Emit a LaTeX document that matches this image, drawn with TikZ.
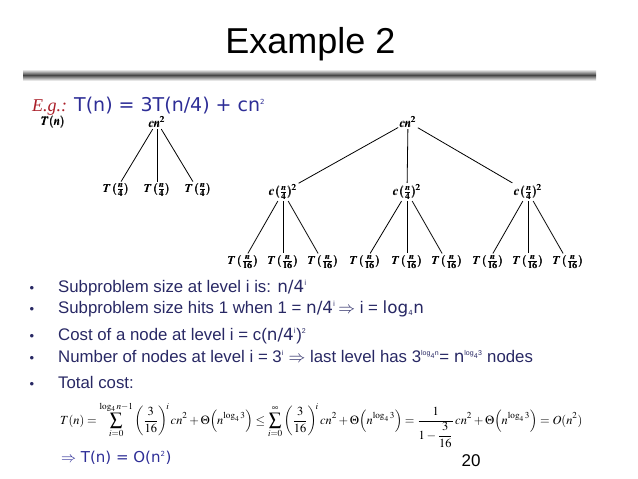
\documentclass[tikz,border=0pt]{standalone}
\usepackage{amsmath}
\usepackage{mathptmx}
\usepackage{fontspec}
\setmainfont{Liberation Sans}
\newfontfamily\cmc{DejaVu Sans}
\newfontfamily\egfont{Liberation Serif}
\usetikzlibrary{positioning}
\definecolor{slideblue}{RGB}{45,45,150}
\definecolor{bodytxt}{RGB}{40,40,100}
\definecolor{egred}{RGB}{170,30,40}
\tikzset{
  tr/.style   ={inner sep=1.5pt,font=\fontsize{12}{13}\selectfont},
  br/.style   ={line width=0.8pt},
  bul/.style  ={anchor=base west,inner sep=0pt,font=\fontsize{16.8}{18}\selectfont,text=bodytxt},
  dot/.style  ={anchor=base,inner sep=0pt,font=\fontsize{13}{14}\selectfont,text=bodytxt},
}
\newcommand{\cq}[1]{{\cmc #1}}
\newcommand{\up}[1]{\textsuperscript{\fontsize{7}{7}\selectfont #1}}
\newcommand{\dn}[1]{\textsubscript{\fontsize{7}{7}\selectfont #1}}
\newcommand{\lgf}{\log_4 3}
\newcommand{\tq}[1]{$\pmb{T\,(\frac{n}{#1})}$}

\begin{document}
\begin{tikzpicture}[x=1pt,y=-1pt]
  \useasboundingbox (0,0) rectangle (638,479);
  \node[anchor=base,inner sep=0pt,font=\fontsize{36}{40}\selectfont] (title) at (310.5,53) {Example 2};
  \shade[top color=gray!20,bottom color=gray!20,middle color=gray!55!black] (23,70) rectangle (596,80);
  \node[anchor=base west,inner sep=0pt,font=\egfont\itshape\fontsize{18}{19}\selectfont,text=egred] (eg) at (32,111) {E.g.:};
  \node[anchor=base west,inner sep=0pt,font=\cmc\fontsize{19}{20}\selectfont,text=slideblue] (rec) at (74,111)
       {T(n) = 3T(n/4) + cn\up{2}};

  % small tree
  \node[tr] (tn) at (53,122) {$\pmb{T(n)}$};
  \node[tr] (r) at (157,122) {$\pmb{cn^2}$};
  \node[tr] (a1) at (116,190) {\tq{4}};
  \node[tr] (a2) at (157,190) {\tq{4}};
  \node[tr] (a3) at (198,190) {\tq{4}};
  \foreach \k in {1,2,3} \draw[br] (r) -- (a\k);

  % big tree
  \node[tr] (R) at (408,122) {$\pmb{cn^2}$};
  \node[tr] (c1) at (283,192) {$\pmb{c\,(\frac{n}{4})^2}$};
  \node[tr] (c2) at (407,192) {$\pmb{c\,(\frac{n}{4})^2}$};
  \node[tr] (c3) at (528,192) {$\pmb{c\,(\frac{n}{4})^2}$};
  \foreach \k in {1,2,3} \draw[br] (R) -- (c\k);
  \foreach \x [count=\k] in {243,283,323,365,407,447,488,528,568}
    \node[tr] (t\k) at (\x,262) {\tq{16}};
  \foreach \p/\k in {1/1,1/2,1/3,2/4,2/5,2/6,3/7,3/8,3/9}
    \draw[br] (c\p) -- (t\k);

  % bullets
  \foreach \y [count=\k] in {292,313,340,362,388}
    \node[dot] (d\k) at (32,\y) {\textbullet};
  \node[bul] (b1) at (58,292) {Subproblem size at level i is: \cq{n/4\up{i}}};
  \node[bul] (b2) at (58,313) {Subproblem size hits 1 when 1 = \cq{n/4\up{i}}\,$\Rightarrow$ i = \cq{log\dn{4}n}};
  \node[bul] (b3) at (58,340) {Cost of a node at level i = c(\cq{n/4\up{i}})\up{2}};
  \node[bul] (b4) at (58,362) {Number of nodes at level i = 3\up{i} $\Rightarrow$ last level has 3\up{log\dn{4}n}= \cq{n}\up{log\dn{4}3} nodes};
  \node[bul] (b5) at (58,388) {Total cost:};

  \node[anchor=base west,inner sep=0pt,font=\fontsize{12.4}{14}\selectfont] (sum) at (60,424)
    {$\displaystyle T(n)=\sum_{i=0}^{\log_4 n-1}\left(\frac{3}{16}\right)^{\!i}cn^2+\Theta\!\left(n^{\lgf}\right)\le
     \sum_{i=0}^{\infty}\left(\frac{3}{16}\right)^{\!i}cn^2+\Theta\!\left(n^{\lgf}\right)=
     \frac{1}{1-\dfrac{3}{16}}\,cn^2+\Theta\!\left(n^{\lgf}\right)=O(n^2)$};
  \node[anchor=base west,inner sep=0pt,font=\cmc\fontsize{15}{16}\selectfont,text=slideblue] (res) at (61,462)
       {$\Rightarrow$ T(n) = O(n\up{2})};
  \node[anchor=base,inner sep=0pt,font=\fontsize{17}{18}\selectfont] (pg) at (471,466) {20};
\end{tikzpicture}
\end{document}
